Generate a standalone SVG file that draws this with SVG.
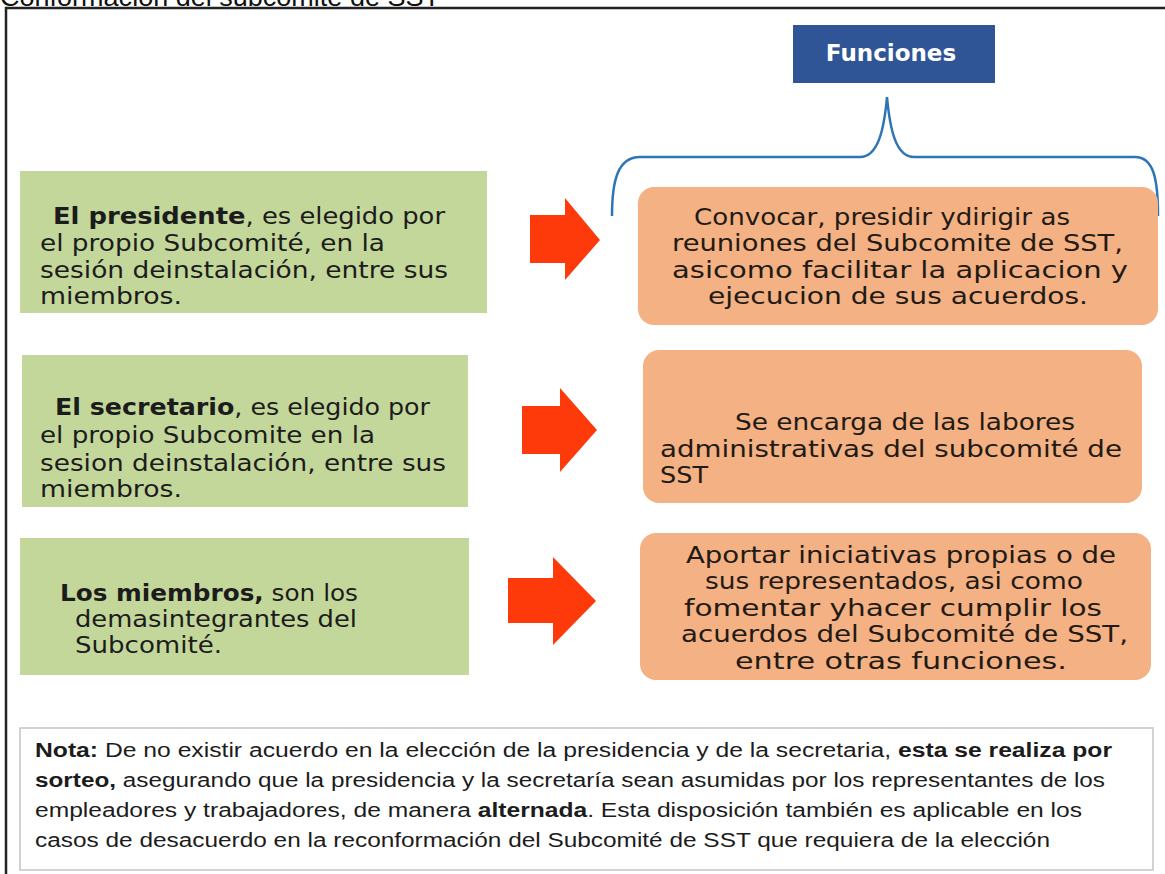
<svg xmlns="http://www.w3.org/2000/svg" width="1165" height="874" viewBox="0 0 1165 874">
<style>
.t{font-family:"DejaVu Sans",Verdana,sans-serif;font-size:23px;fill:#1c1c1c}
.o{font-family:"DejaVu Sans",Verdana,sans-serif;font-size:23px;fill:#221a14}
.b{font-weight:bold}
.n{font-family:"Liberation Sans Narrow","Liberation Sans",Arial,sans-serif;font-size:20px;fill:#1c1c1c}
.green{fill:#C4D79B}
.orange{fill:#F4B183}
.arrow{fill:#FF3A0A}
</style>
<rect width="1165" height="874" fill="#ffffff"/>
<text x="0" y="6" font-family="Liberation Sans,Arial,sans-serif" font-size="26" fill="#111" textLength="440" lengthAdjust="spacingAndGlyphs">Conformación del subcomité de SST</text>
<path d="M6,874 V8 H1165" fill="none" stroke="#222" stroke-width="2.5"/>

<g id="funciones">
<rect x="793" y="25" width="202" height="58" fill="#2F5597"/>
<text x="891" y="61" text-anchor="middle" font-family="DejaVu Sans,sans-serif" font-size="23" font-weight="bold" fill="#ffffff">Funciones</text>
</g>

<g id="connectors">
<path d="M612,216 C612,180 618,157 640,157 H860 C878,157 884,130 887,97 C890,130 896,157 914,157 H1135 C1154,157 1158,180 1158,216" fill="none" stroke="#2E75B6" stroke-width="2.5"/>
<path class="arrow" d="M530,215 H565 V198 L600,240 L565,280 V263 H530 Z"/>
<path class="arrow" d="M522,406 H560 V388 L597,430 L560,472 V454 H522 Z"/>
<path class="arrow" d="M508,578 H553 V557 L596,601 L553,645 V623 H508 Z"/>
</g>

<g id="presidente">
<rect class="green" x="20" y="171" width="467" height="142"/>
<text class="t" x="53" y="224" textLength="392" lengthAdjust="spacingAndGlyphs"><tspan class="b">El presidente</tspan>, es elegido por</text>
<text class="t" x="40" y="251" textLength="345" lengthAdjust="spacingAndGlyphs">el propio Subcomité, en la</text>
<text class="t" x="40" y="278" textLength="408" lengthAdjust="spacingAndGlyphs">sesión deinstalación, entre sus</text>
<text class="t" x="40" y="304" textLength="142" lengthAdjust="spacingAndGlyphs">miembros.</text>
</g>

<g id="secretario">
<rect class="green" x="22" y="355" width="446" height="152"/>
<text class="t" x="55" y="415" textLength="375" lengthAdjust="spacingAndGlyphs"><tspan class="b">El secretario</tspan>, es elegido por</text>
<text class="t" x="40" y="443" textLength="335" lengthAdjust="spacingAndGlyphs">el propio Subcomite en la</text>
<text class="t" x="40" y="471" textLength="406" lengthAdjust="spacingAndGlyphs">sesion deinstalación, entre sus</text>
<text class="t" x="40" y="497" textLength="142" lengthAdjust="spacingAndGlyphs">miembros.</text>
</g>

<g id="miembros">
<rect class="green" x="20" y="538" width="449" height="137"/>
<text class="t" x="60" y="601" textLength="298" lengthAdjust="spacingAndGlyphs"><tspan class="b">Los miembros,</tspan> son los</text>
<text class="t" x="75" y="627" textLength="282" lengthAdjust="spacingAndGlyphs">demasintegrantes del</text>
<text class="t" x="75" y="653" textLength="147" lengthAdjust="spacingAndGlyphs">Subcomité.</text>
</g>

<g id="funcion1">
<rect class="orange" x="638" y="187" width="520" height="138" rx="16"/>
<text class="o" x="694" y="225" textLength="376" lengthAdjust="spacingAndGlyphs">Convocar, presidir ydirigir as</text>
<text class="o" x="672" y="251" textLength="451" lengthAdjust="spacingAndGlyphs">reuniones del Subcomite de SST,</text>
<text class="o" x="672" y="278" textLength="456" lengthAdjust="spacingAndGlyphs">asicomo facilitar la aplicacion y</text>
<text class="o" x="708" y="304" textLength="380" lengthAdjust="spacingAndGlyphs">ejecucion de sus acuerdos.</text>
</g>

<g id="funcion2">
<rect class="orange" x="643" y="350" width="499" height="153" rx="16"/>
<text class="o" x="735" y="430" textLength="340" lengthAdjust="spacingAndGlyphs">Se encarga de las labores</text>
<text class="o" x="660" y="457" textLength="462" lengthAdjust="spacingAndGlyphs">administrativas del subcomité de</text>
<text class="o" x="660" y="483" textLength="48" lengthAdjust="spacingAndGlyphs">SST</text>
</g>

<g id="funcion3">
<rect class="orange" x="640" y="533" width="511" height="147" rx="16"/>
<text class="o" x="686" y="563" textLength="430" lengthAdjust="spacingAndGlyphs">Aportar iniciativas propias o de</text>
<text class="o" x="705" y="589" textLength="378" lengthAdjust="spacingAndGlyphs">sus representados, asi como</text>
<text class="o" x="684" y="616" textLength="418" lengthAdjust="spacingAndGlyphs">fomentar yhacer cumplir los</text>
<text class="o" x="681" y="642" textLength="447" lengthAdjust="spacingAndGlyphs">acuerdos del Subcomité de SST,</text>
<text class="o" x="735" y="669" textLength="332" lengthAdjust="spacingAndGlyphs">entre otras funciones.</text>
</g>

<g id="nota">
<rect x="20" y="728" width="1133" height="142" fill="#ffffff" stroke="#c4c4c4" stroke-width="1.5"/>
<text class="n" x="35" y="757" textLength="1077" lengthAdjust="spacingAndGlyphs"><tspan class="b">Nota:</tspan> De no existir acuerdo en la elección  de la presidencia  y de la secretaria,  <tspan class="b">esta se realiza por</tspan></text>
<text class="n" x="35" y="787" textLength="1070" lengthAdjust="spacingAndGlyphs"><tspan class="b">sorteo,</tspan> asegurando  que la presidencia  y la secretaría sean asumidas  por los representantes de los</text>
<text class="n" x="35" y="817" textLength="1047" lengthAdjust="spacingAndGlyphs">empleadores  y trabajadores,  de manera <tspan class="b">alternada</tspan>.  Esta disposición  también  es aplicable  en los</text>
<text class="n" x="35" y="847" textLength="1015" lengthAdjust="spacingAndGlyphs">casos de desacuerdo  en la reconformación  del Subcomité  de SST que requiera  de la elección</text>
</g>
</svg>
